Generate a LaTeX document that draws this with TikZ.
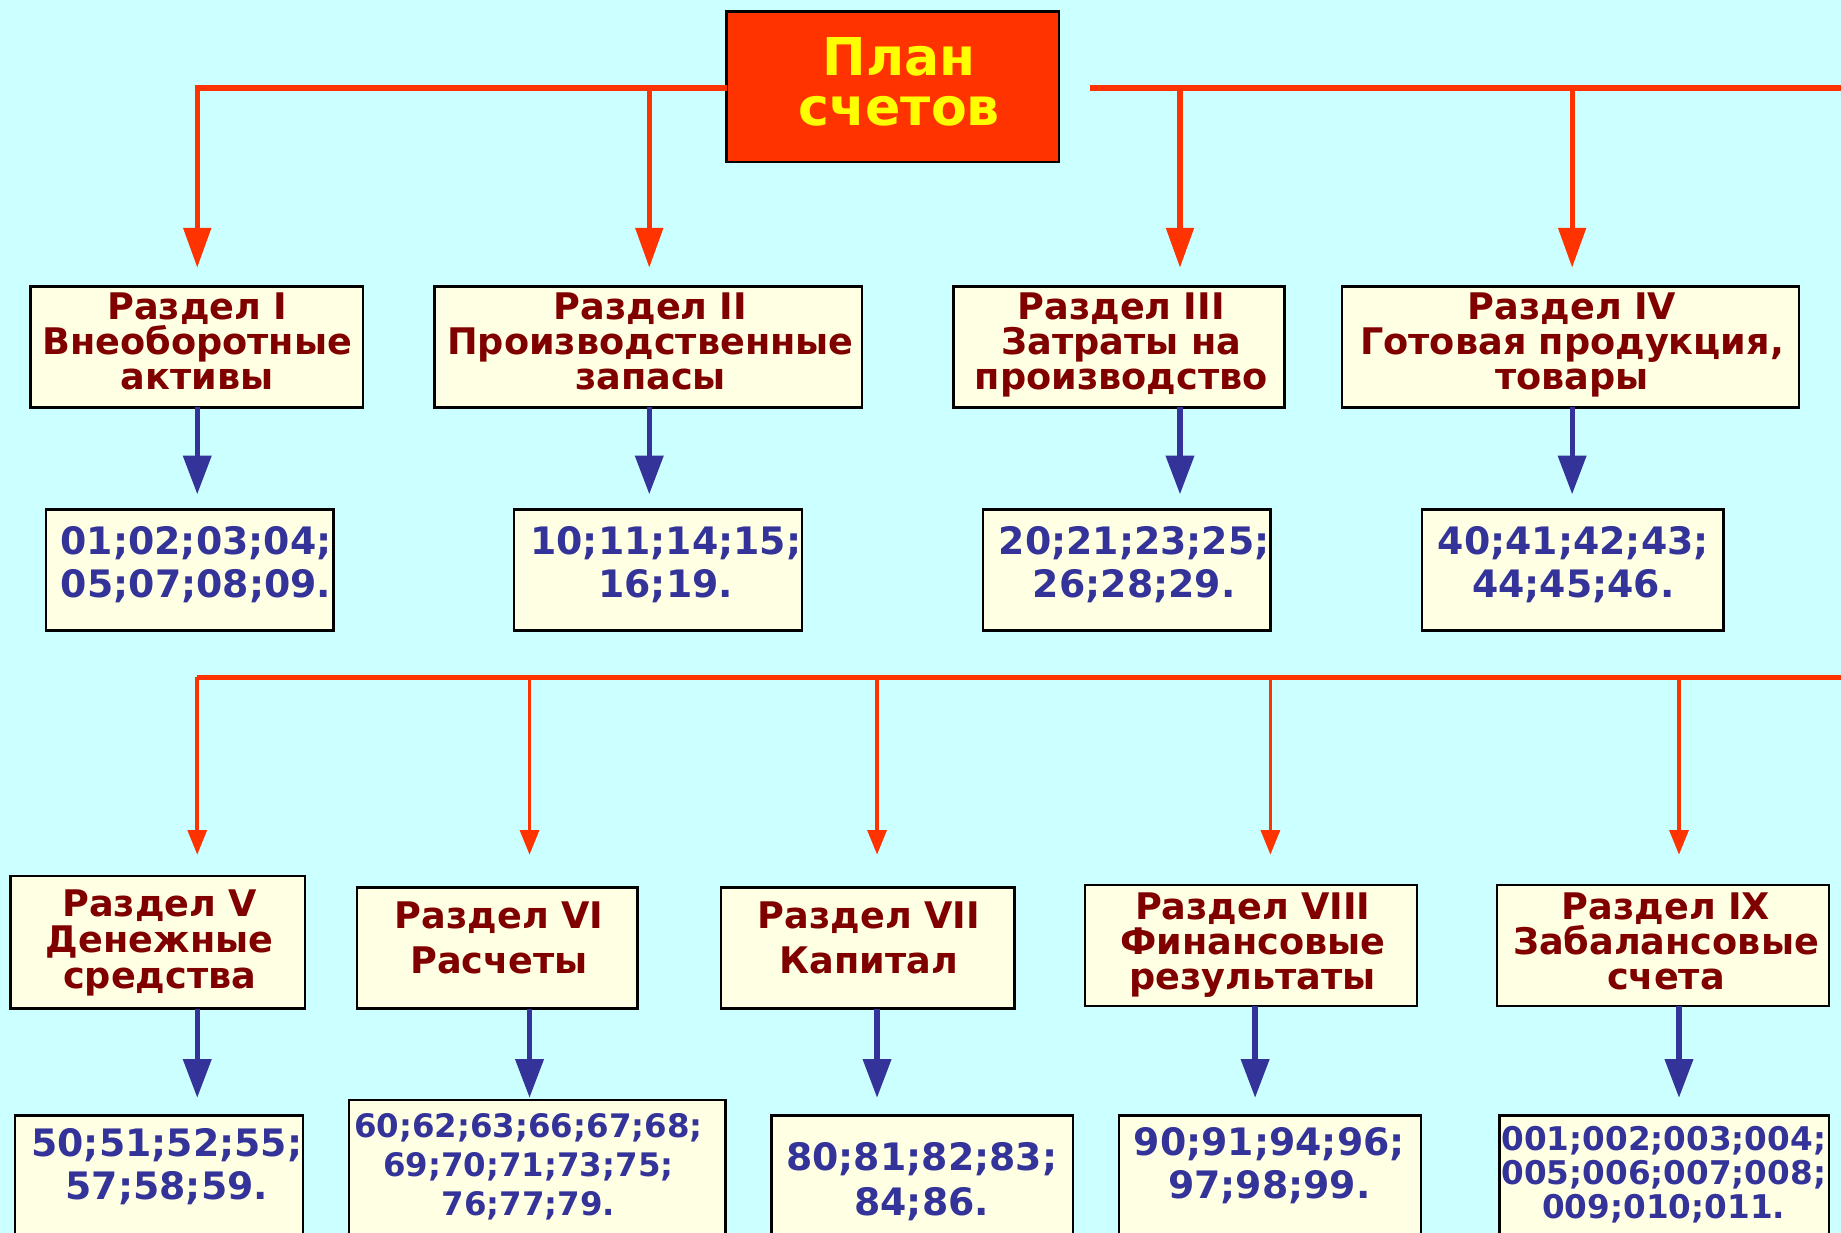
\documentclass[tikz,border=0pt]{standalone}
\usepackage{fontspec}
\setmainfont{DejaVu Sans}
\usetikzlibrary{arrows.meta,fit}
\definecolor{bg}{HTML}{CCFFFF}
\definecolor{rd}{HTML}{FF3300}
\definecolor{dred}{HTML}{800000}
\definecolor{blu}{HTML}{333399}
\definecolor{cream}{HTML}{FFFFE3}
\definecolor{yel}{HTML}{FFFF00}
\begin{document}
\begin{tikzpicture}[x=0.5pt,y=-0.5pt,
  sbox/.style={draw=black, line width=1pt, fill=cream, inner sep=0pt, outer sep=0pt},
  ttlbox/.style={draw=black, line width=1.2pt, fill=rd, inner sep=0pt, outer sep=0pt},
  ttltext/.style={text=yel, font=\bfseries\fontsize{22.2}{21.25}\selectfont, text width=200pt, align=center, anchor=base, inner sep=0pt},
  sect/.style={text=dred, font=\bfseries\fontsize{15.6}{15}\selectfont, text width=200pt, align=center, anchor=base, inner sep=0pt},
  secttwo/.style={sect, font=\bfseries\fontsize{15.6}{19.15}\selectfont},
  sectb/.style={sect, font=\bfseries\fontsize{15.6}{15.25}\selectfont},
  nums/.style={text=blu, font=\bfseries\fontsize{16.1}{18.4}\selectfont, text width=200pt, align=center, anchor=base, inner sep=0pt},
  numsa/.style={nums, font=\bfseries\fontsize{13.8}{16.5}\selectfont},
  numsb/.style={nums, font=\bfseries\fontsize{13.9}{14.5}\selectfont},
  rtop/.style={draw=rd, line width=2.25pt, -{Triangle[width=11.5pt,length=17pt]}},
  rline/.style={draw=rd, line width=2.25pt},
  rbot/.style={draw=rd, line width=1.6pt, -{Triangle[width=8pt,length=10.5pt]}},
  barr/.style={draw=blu, line width=2.25pt, -{Triangle[width=11.75pt,length=16.5pt]}}
]
\useasboundingbox (0,0) rectangle (1568,1050);
\fill[bg] (0,0) rectangle (1568,1050);
\clip (0,0) rectangle (1568,1050);

% title
\node[ttlbox, fit={(619,10) (902,138)}] (title) {};
\node[ttltext] (titletext) at (766,64) {План\\счетов};

% top sections
\node[sbox, fit={(26,244) (309,347)}] (s1) {};
\node[sbox, fit={(370,244) (734,347)}] (s2) {};
\node[sbox, fit={(812,244) (1094,347)}] (s3) {};
\node[sbox, fit={(1143,244) (1532,347)}] (s4) {};
\node[sect] (t1) at (168,272) {Раздел I\\Внеоборотные\\активы};
\node[sect] (t2) at (554,272) {Раздел II\\Производственные\\запасы};
\node[sect] (t3) at (955,272) {Раздел III\\Затраты на\\производство};
\node[sect] (t4) at (1339,272) {Раздел IV\\Готовая продукция,\\товары};

% top numbers
\node[sbox, fit={(39,434) (284,537)}] (n1) {};
\node[sbox, fit={(438,434) (683,537)}] (n2) {};
\node[sbox, fit={(837,434) (1082,537)}] (n3) {};
\node[sbox, fit={(1211,434) (1468,537)}] (n4) {};
\node[nums] (m1) at (167,472) {01;02;03;04;\\05;07;08;09.};
\node[nums] (m2) at (567,472) {10;11;14;15;\\16;19.};
\node[nums] (m3) at (966,472) {20;21;23;25;\\26;28;29.};
\node[nums] (m4) at (1340,472) {40;41;42;43;\\44;45;46.};

% bottom sections
\node[sbox, fit={(9,746) (260,859)}] (s5) {};
\node[sbox, fit={(304,756) (543,859)}] (s6) {};
\node[sbox, fit={(614,756) (864,859)}] (s7) {};
\node[sbox, fit={(924,754) (1207,857)}] (s8) {};
\node[sbox, fit={(1275,754) (1558,857)}] (s9) {};
\node[sectb] (t5) at (136,781) {Раздел V\\Денежные\\средства};
\node[secttwo] (t6) at (425,791) {Раздел VI\\Расчеты};
\node[secttwo] (t7) at (740,791) {Раздел VII\\Капитал};
\node[sect] (t8) at (1067,783) {Раздел VIII\\Финансовые\\результаты};
\node[sect] (t9) at (1419,783) {Раздел IX\\Забалансовые\\счета};

% bottom numbers
\node[sbox, fit={(13,950) (258,1070)}] (n5) {};
\node[sbox, fit={(297,937) (618,1070)}] (n6) {};
\node[sbox, fit={(657,950) (914,1070)}] (n7) {};
\node[sbox, fit={(953,950) (1210,1070)}] (n8) {};
\node[sbox, fit={(1277,950) (1558,1070)}] (n9) {};
\node[nums] (m5) at (142,985) {50;51;52;55;\\57;58;59.};
\node[numsa] (m6) at (450,969) {60;62;63;66;67;68;\\69;70;71;73;75;\\76;77;79.};
\node[nums, font=\bfseries\fontsize{16.1}{19}\selectfont] (m7) at (785,997) {80;81;82;83;\\84;86.};
\node[nums] (m8) at (1081,984) {90;91;94;96;\\97;98;99.};
\node[numsb] (m9) at (1417,979.5) {001;002;003;004;\\005;006;007;008;\\009;010;011.};

% top connectors
\coordinate (j1) at (168,75);
\coordinate (j2) at (553,75);
\coordinate (j3) at (1005,75);
\coordinate (j4) at (1339,75);
\coordinate (rs) at (928,75);
\coordinate (re) at (1580,75);
\draw[rtop, shorten >=8pt] (title.west |- j1) -- (j1) -- (j1 |- s1.north);
\draw[rtop, shorten >=8pt] (j2) -- (j2 |- s2.north);
\draw[rline] (rs) -- (re);
\draw[rtop, shorten >=8pt] (j3) -- (j3 |- s3.north);
\draw[rtop, shorten >=8pt] (j4) -- (j4 |- s4.north);

\draw[barr, shorten >=6.5pt] (s1.south -| j1) -- (n1.north -| j1);
\draw[barr, shorten >=6.5pt] (s2.south -| j2) -- (n2.north -| j2);
\draw[barr, shorten >=6.5pt] (s3.south -| j3) -- (n3.north -| j3);
\draw[barr, shorten >=6.5pt] (s4.south -| j4) -- (n4.north -| j4);

% bottom connectors
\coordinate (k1) at (168,577);
\coordinate (k2) at (451,577);
\coordinate (k3) at (747,577);
\coordinate (k4) at (1082,577);
\coordinate (k5) at (1430,577);
\coordinate (ke) at (1580,577);
\coordinate (b4) at (1069,577);
\draw[rline] (k1) -- (ke);
\draw[rbot, shorten >=9pt] (k1) -- (k1 |- s5.north);
\draw[rbot, shorten >=14pt] (k2) -- (k2 |- s6.north);
\draw[rbot, shorten >=14pt] (k3) -- (k3 |- s7.north);
\draw[rbot, shorten >=13pt] (k4) -- (k4 |- s8.north);
\draw[rbot, shorten >=13pt] (k5) -- (k5 |- s9.north);

\draw[barr, shorten >=7.5pt] (s5.south -| k1) -- (n5.north -| k1);
\draw[barr, shorten >=1pt] (s6.south -| k2) -- (n6.north -| k2);
\draw[barr, shorten >=7.5pt] (s7.south -| k3) -- (n7.north -| k3);
\draw[barr, shorten >=7.5pt] (s8.south -| b4) -- (n8.north -| b4);
\draw[barr, shorten >=7.5pt] (s9.south -| k5) -- (n9.north -| k5);
\end{tikzpicture}
\end{document}
